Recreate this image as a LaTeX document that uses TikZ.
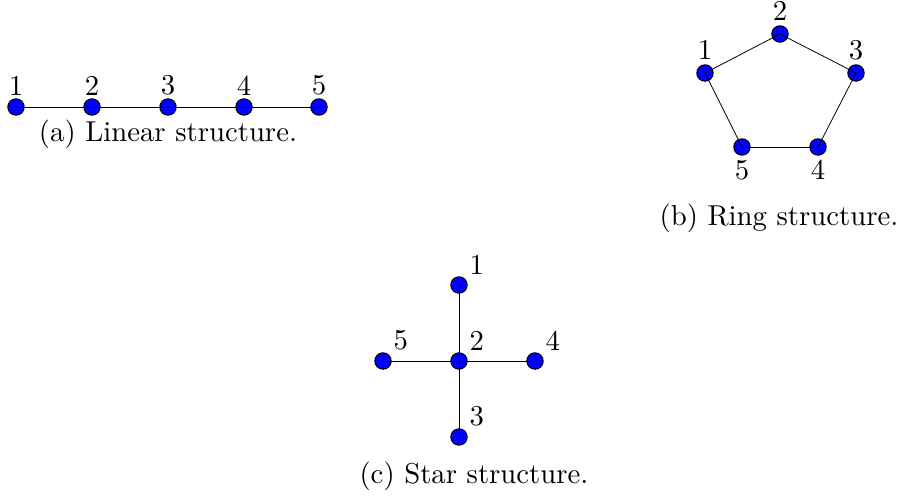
\documentclass[tikz,border=0pt]{standalone}
\usetikzlibrary{positioning}
\tikzset{
  px/.style={x=0.379pt, y=-0.379pt},
  every node/.style={font=\fontsize{10.9}{13}\selectfont},
  vtx/.style={circle, draw=black, fill=blue, minimum size=6.2pt, inner sep=0pt},
  edge/.style={draw=black, line width=0.3pt},
  caption/.style={},
}
\begin{document}
\begin{tikzpicture}[px]
  \useasboundingbox (0,0) rectangle (902,496);
  % (a) linear
  \foreach \i/\x in {1/16,2/92,3/168,4/244,5/319}{
    \node[vtx,label={[inner sep=1pt]above:\i}] (l\i) at (\x,107){};}
  \foreach \i/\j in {1/2,2/3,3/4,4/5}{\draw[edge](l\i.center)--(l\j.center);}
  \node[caption] (capa) at (168,134){(a) Linear structure.};
  % (b) ring
  \foreach \i/\x/\y/\p in {1/705/73/above,2/780/34/above,3/856/73/above,4/818/147/below,5/742/147/below}{
    \node[vtx,label={[inner sep=1.5pt]\p:\i}] (r\i) at (\x,\y){};}
  \foreach \i/\j in {1/2,2/3,3/4,4/5,5/1}{\draw[edge](r\i.center)--(r\j.center);}
  \node[caption] (capb) at (779,218){(b) Ring structure.};
  % (c) star
  \foreach \i/\x/\y in {1/459/285,2/459/361,3/459/437,4/535/361,5/383/361}{
    \node[vtx,label={[inner sep=1.5pt]above right:\i}] (s\i) at (\x,\y){};}
  \foreach \i in {1,3,4,5}{\draw[edge](s2.center)--(s\i.center);}
  \node[caption] (capc) at (474,476){(c) Star structure.};
\end{tikzpicture}
\end{document}
